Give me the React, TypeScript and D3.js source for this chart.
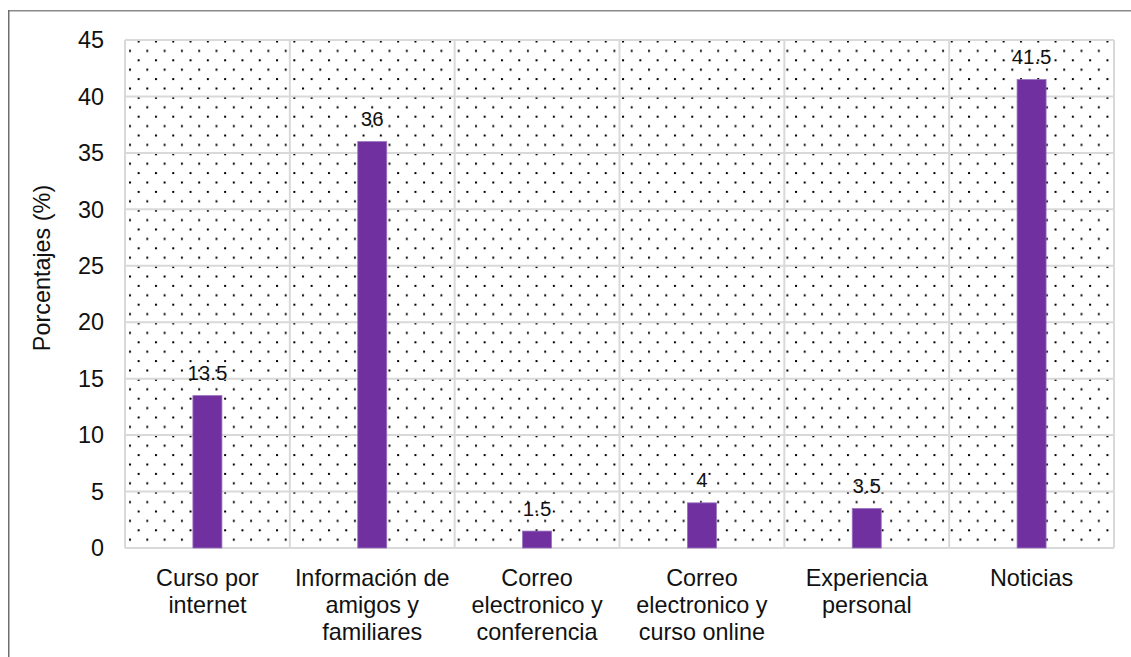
import React from "react";
import * as d3 from "d3";

// Survey data: share of respondents per information source
const categories = [
  "Curso por internet",
  "Información de amigos y familiares",
  "Correo electronico y conferencia",
  "Correo electronico y curso online",
  "Experiencia personal",
  "Noticias",
];
const categoryLines = [
  ["Curso por", "internet"],
  ["Información de", "amigos y", "familiares"],
  ["Correo", "electronico y", "conferencia"],
  ["Correo", "electronico y", "curso online"],
  ["Experiencia", "personal"],
  ["Noticias"],
];
const values = [13.5, 36, 1.5, 4, 3.5, 41.5];
const yTicks = [0, 5, 10, 15, 20, 25, 30, 35, 40, 45];
const yTitle = "Porcentajes (%)";

const W = 1131;
const H = 657;
const FONT = "Arial, 'Liberation Sans', sans-serif";

export default function App() {
  const left = 125;
  const right = 1114;
  const top = 40;
  const bottom = 548;

  const x = d3
    .scaleBand<string>()
    .domain(categories)
    .range([left, right])
    .paddingInner(0.824)
    .paddingOuter(0.412);
  const y = d3.scaleLinear().domain([0, 45]).range([bottom, top]);
  const step = x.step();
  const bounds = d3.range(categories.length + 1).map((i) => left + i * step);

  return (
    <svg
      width={W}
      height={H}
      style={{ position: "absolute", left: 0, top: 0, background: "#fff" }}
      fontFamily={FONT}
    >
      <defs>
        <pattern
          id="dots"
          patternUnits="userSpaceOnUse"
          x={129}
          y={40.5}
          width={17.3}
          height={18.8}
        >
          <rect x={8.65} y={0} width={2} height={2} fill="#000" />
          <rect x={0} y={9.4} width={2} height={2} fill="#000" />
        </pattern>
      </defs>

      {/* chart frame */}
      <line x1={8.75} y1={10.75} x2={W} y2={10.75} stroke="#8a8a8a" strokeWidth={1.5} />
      <line x1={8.75} y1={10} x2={8.75} y2={H} stroke="#6e6e6e" strokeWidth={1.5} />

      {/* plot background */}
      <rect x={left} y={top} width={right - left} height={bottom - top} fill="url(#dots)" />

      {/* gridlines */}
      {yTicks.map((t) => (
        <line key={"h" + t} x1={left} x2={right} y1={y(t)} y2={y(t)} stroke="#d9d9d9" strokeWidth={2} />
      ))}
      {bounds.map((b, i) => (
        <line key={"v" + i} x1={b} x2={b} y1={top} y2={bottom} stroke="#d9d9d9" strokeWidth={2} />
      ))}

      {/* bars */}
      {categories.map((c, i) => (
        <rect
          key={c}
          x={x(c)}
          y={y(values[i])}
          width={x.bandwidth()}
          height={y(0) - y(values[i])}
          fill="#7030a0"
          stroke="#9a74bf"
          strokeWidth={0.8}
        />
      ))}

      {/* value labels */}
      {categories.map((c, i) => (
        <text
          key={"v" + c}
          x={(x(c) as number) + x.bandwidth() / 2}
          y={y(values[i]) - 15.5}
          textAnchor="middle"
          fontSize={20.5}
          fill="#111"
        >
          {values[i]}
        </text>
      ))}

      {/* y tick labels */}
      {yTicks.map((t) => (
        <text key={"t" + t} x={104} y={y(t)} dy="0.35em" textAnchor="end" fontSize={23.4} fill="#111">
          {t}
        </text>
      ))}

      {/* category labels */}
      {categories.map((c, i) => (
        <text
          key={"c" + c}
          x={(x(c) as number) + x.bandwidth() / 2}
          y={586}
          textAnchor="middle"
          fontSize={23.4}
          fill="#111"
        >
          {categoryLines[i].map((l, j) => (
            <tspan key={j} x={(x(c) as number) + x.bandwidth() / 2} dy={j === 0 ? 0 : 27}>
              {l}
            </tspan>
          ))}
        </text>
      ))}

      {/* y axis title */}
      <text
        transform={`translate(50, 268) rotate(-90)`}
        textAnchor="middle"
        fontSize={23.4}
        fill="#111"
      >
        {yTitle}
      </text>
    </svg>
  );
}
